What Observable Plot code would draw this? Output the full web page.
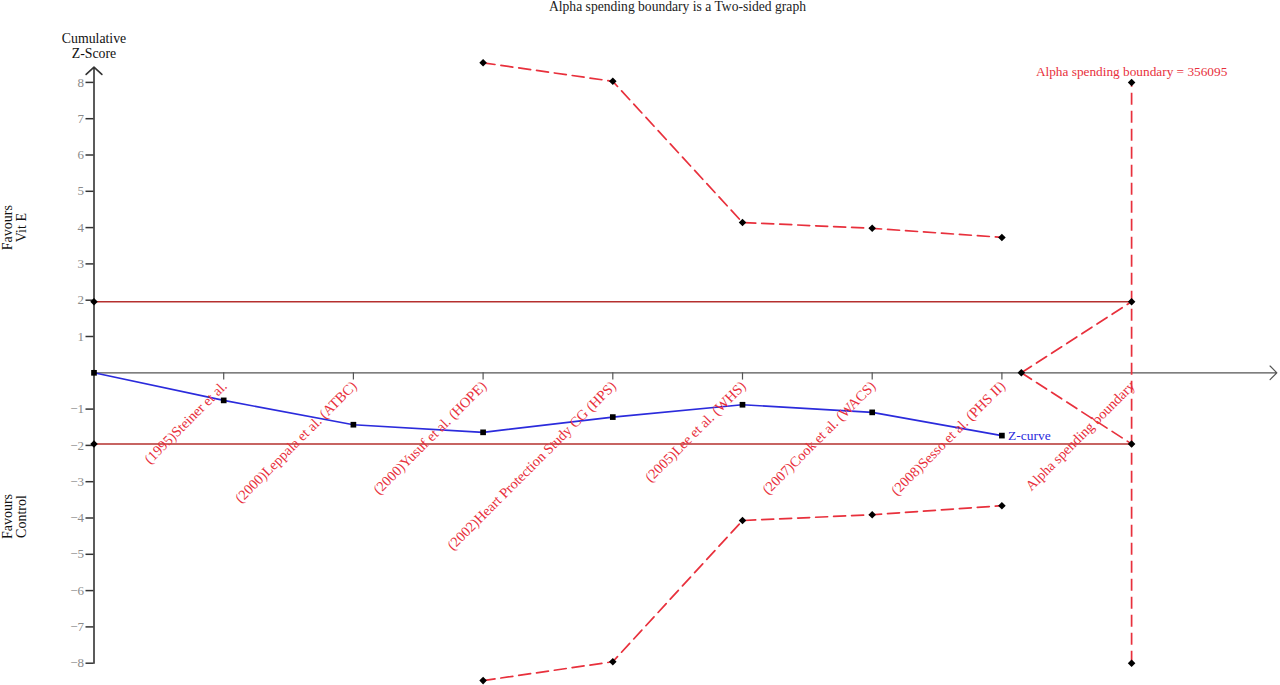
<!DOCTYPE html>
<html><head><meta charset="utf-8">
<script src="https://cdn.jsdelivr.net/npm/d3@7"></script>
<script src="https://cdn.jsdelivr.net/npm/@observablehq/plot@0.6"></script>
<style>
body{margin:0;background:#fff;font-family:"Liberation Serif","Times New Roman",serif;}
#title{height:16px;line-height:14px;text-align:center;font-size:13.6px;color:#222;padding-left:75px;box-sizing:border-box;white-space:nowrap;}
#chart svg{display:block;}
</style></head><body>
<div id="title">Alpha spending boundary is a Two-sided graph</div>
<div id="chart"></div>
<script>
// Trials in cumulative order (x index 1..7)
const studies = [
  "(1995)Steiner et al.",
  "(2000)Leppala et al. (ATBC)",
  "(2000)Yusuf et al. (HOPE)",
  "(2002)Heart Protection Study CG (HPS)",
  "(2005)Lee et al. (WHS)",
  "(2007)Cook et al. (WACS)",
  "(2008)Sesso et al. (PHS II)"
];
// Cumulative Z-curve (index 0 = origin)
const zIndex = [0, 1, 2, 3, 4, 5, 6, 7];
const zValues = [0, -0.76, -1.43, -1.64, -1.22, -0.88, -1.09, -1.73];
// Alpha spending boundaries (from trial index 3)
const boundIndex = [3, 4, 5, 6, 7];
const upperBound = [8.54, 8.03, 4.14, 3.98, 3.73];
const lowerBound = [-8.48, -7.96, -4.07, -3.91, -3.66];
// Conventional boundaries
const conventional = [1.96, -1.96];
// Required information size position and wedge vertex
const risX = 8.0;
const vertexX = 7.15;
const risLabel = "Alpha spending boundary = 356095";
const yTicks = [8, 7, 6, 5, 4, 3, 2, 1, -1, -2, -3, -4, -5, -6, -7, -8];
const xMax = 9.12;
const yMin = -8, yMax = 8, yArrowTop = 8.42;

const RED = "#e8303c";
const DARKRED = "#b5302e";
const BLUE = "#2b2bdc";
const dash = "12,6";

const zData = zIndex.map((x, i) => ({x, y: zValues[i]}));
const upData = boundIndex.map((x, i) => ({x, y: upperBound[i]}));
const loData = boundIndex.map((x, i) => ({x, y: lowerBound[i]}));
const labelData = studies.map((s, i) => ({x: i + 1, label: s}));
const wedgeUp = [{x: vertexX, y: 0}, {x: risX, y: conventional[0]}];
const wedgeLo = [{x: vertexX, y: 0}, {x: risX, y: conventional[1]}];
const diamonds = [
  ...upData, ...loData,
  {x: 0, y: conventional[0]}, {x: 0, y: conventional[1]},
  {x: risX, y: conventional[0]}, {x: risX, y: conventional[1]},
  {x: risX, y: yMax}, {x: risX, y: yMin},
  {x: vertexX, y: 0}
];

const chart = Plot.plot({
  width: 1280,
  height: 669,
  marginLeft: 93.5,
  marginRight: 1280 - 93.5 - xMax * 129.7,
  marginTop: 65.9,
  marginBottom: 22.3,
  style: {fontFamily: "'Liberation Serif','Times New Roman',serif", fontSize: "12px", background: "white", overflow: "visible"},
  x: {domain: [0, xMax], axis: null},
  y: {domain: [yMin, yMax], axis: null},
  marks: [
    // y axis ticks + labels
    Plot.axisY({ticks: yTicks, tickSize: 8, tickPadding: 2, stroke: "#333", strokeWidth: 1.5, fill: "#8a8a8a", fontSize: 13, label: null, tickFormat: d => d < 0 ? "\u2212" + Math.abs(d) : String(d)}),
    // conventional boundaries
    Plot.ruleY(conventional, {x1: 0, x2: risX, stroke: DARKRED, strokeWidth: 1.5}),
    // x axis with arrow
    Plot.arrow([{x1: 0, y1: 0, x2: xMax, y2: 0}], {x1: "x1", y1: "y1", x2: "x2", y2: "y2", stroke: "#555", strokeWidth: 1.2, headAngle: 90, headLength: 12}),
    // x ticks
    Plot.ruleX(zIndex.slice(1), {y1: 0, y2: -0.2, stroke: "#555", strokeWidth: 1.2}),
    // y axis with arrow
    Plot.arrow([{x1: 0, y1: yMin, x2: 0, y2: yArrowTop}], {x1: "x1", y1: "y1", x2: "x2", y2: "y2", stroke: "#333", strokeWidth: 1.6, headAngle: 95, headLength: 10}),
    // alpha spending boundaries
    Plot.line(upData, {x: "x", y: "y", stroke: RED, strokeWidth: 1.7, strokeDasharray: dash}),
    Plot.line(loData, {x: "x", y: "y", stroke: RED, strokeWidth: 1.7, strokeDasharray: dash}),
    Plot.ruleX([risX], {y1: yMin, y2: yMax, stroke: RED, strokeWidth: 1.7, strokeDasharray: dash}),
    Plot.line(wedgeUp, {x: "x", y: "y", stroke: RED, strokeWidth: 1.7, strokeDasharray: dash}),
    Plot.line(wedgeLo, {x: "x", y: "y", stroke: RED, strokeWidth: 1.7, strokeDasharray: dash}),
    // Z-curve
    Plot.line(zData, {x: "x", y: "y", stroke: BLUE, strokeWidth: 1.6}),
    Plot.dot(zData, {x: "x", y: "y", symbol: "square", r: 3.2, fill: "black"}),
    Plot.dot(diamonds, {x: "x", y: "y", symbol: "diamond2", r: 3.4, fill: "black"}),
    // study labels
    Plot.text(labelData, {x: "x", y: () => 0, text: "label", rotate: -45, textAnchor: "end", lineAnchor: "top", dx: -3, dy: 7, fill: RED, fontSize: 14.3}),
    Plot.text(["Alpha spending boundary"], {x: () => risX, y: () => 0, text: d => d, rotate: -45, textAnchor: "end", lineAnchor: "top", dx: -3, dy: 7, fill: RED, fontSize: 14.3}),
    Plot.text(["Z-curve"], {x: () => zIndex[7], y: () => zValues[7], text: d => d, textAnchor: "start", dx: 6, fill: BLUE, fontSize: 13.5}),
    Plot.text([risLabel], {x: () => risX, y: () => yMax, text: d => d, textAnchor: "middle", dy: -11, fill: RED, fontSize: 13.3}),
    // axis titles
    Plot.text(["Cumulative\nZ-Score"], {frameAnchor: "top-left", text: d => d, textAnchor: "middle", lineAnchor: "bottom", lineHeight: 1.15, dy: -24, dx: 0, fill: "#111", fontSize: 13.8}),
    Plot.text(["Favours\nVit E"], {frameAnchor: "left", y: () => 4.0, text: d => d, rotate: -90, textAnchor: "middle", lineAnchor: "middle", dx: -79.5, fill: "#111", fontSize: 14}),
    Plot.text(["Favours\nControl"], {frameAnchor: "left", y: () => -3.96, text: d => d, rotate: -90, textAnchor: "middle", lineAnchor: "middle", dx: -79.5, fill: "#111", fontSize: 14})
  ]
});
document.getElementById("chart").appendChild(chart);
</script>
</body></html>
